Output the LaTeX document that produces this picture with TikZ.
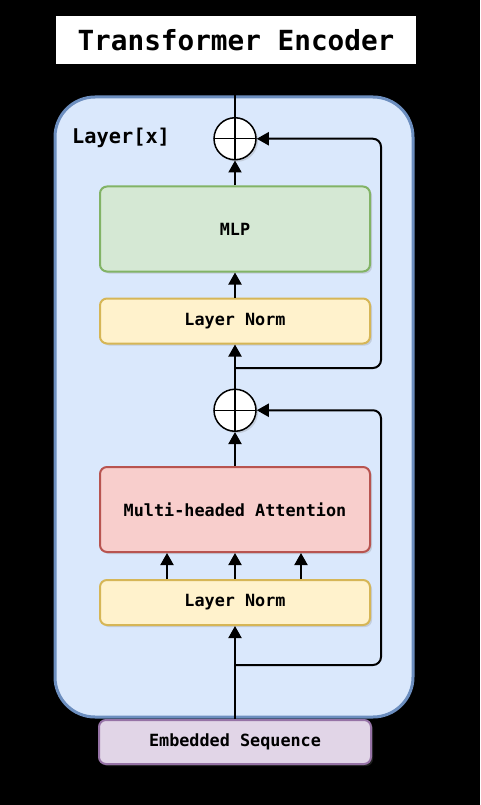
\documentclass[tikz,border=0pt]{standalone}
\usepackage{fontspec}
\setmonofont{DejaVu Sans Mono}
\usetikzlibrary{positioning,arrows.meta,shadows}

\definecolor{layerFill}{HTML}{DAE8FC}
\definecolor{layerLine}{HTML}{6C8EBF}
\definecolor{normFill}{HTML}{FFF2CC}
\definecolor{normLine}{HTML}{D6B656}
\definecolor{mlpFill}{HTML}{D5E8D4}
\definecolor{mlpLine}{HTML}{82B366}
\definecolor{attFill}{HTML}{F8CECC}
\definecolor{attLine}{HTML}{B85450}
\definecolor{embFill}{HTML}{E1D5E7}
\definecolor{embLine}{HTML}{9673A6}

\begin{document}
\begin{tikzpicture}[x=1pt, y=-1pt, >={Triangle[length=12pt,width=13pt]},
  block/.style={rectangle, rounded corners=7pt, line width=2pt, minimum width=270pt, inner sep=0pt,
    font=\ttfamily\bfseries\fontsize{16.8}{20}\selectfont,
    drop shadow={shadow xshift=2pt, shadow yshift=-2pt, opacity=.25}},
  norm/.style={block, fill=normFill, draw=normLine, minimum height=45pt},
  big/.style={block, minimum height=85pt},
  add/.style={circle, draw, fill=white, minimum size=42pt, inner sep=0pt, line width=1.5pt,
    drop shadow={shadow xshift=2pt, shadow yshift=-2pt, opacity=.25},
    path picture={\draw[line width=1.5pt] (path picture bounding box.north) -- (path picture bounding box.south)
      (path picture bounding box.west) -- (path picture bounding box.east);}},
  link/.style={->, line width=2pt}]

  % background and outer layer
  \useasboundingbox (0,0) rectangle (480,805);
  \fill[black] (0,0) rectangle (480,805);
  \node[rectangle, fill=white, minimum width=360pt, minimum height=48pt,
    font=\ttfamily\bfseries\fontsize{27.7}{30}\selectfont] (title) at (236,40) {Transformer Encoder};
  \node[rectangle, rounded corners=40pt, fill=layerFill, draw=layerLine, line width=3pt,
    minimum width=358pt, minimum height=620pt] (layer) at (234,407) {};
  \node[anchor=west, inner sep=0pt, font=\ttfamily\bfseries\fontsize{20.3}{24}\selectfont] (lbl) at (72,138) {Layer[x]};

  % blocks
  \node[block, fill=embFill, draw=embLine, minimum width=272pt, minimum height=44pt] (emb) at (235,742) {Embedded Sequence};
  \node[norm, above=93pt of emb] (ln1) {Layer Norm};
  \node[big, fill=attFill, draw=attLine, above=26pt of ln1] (mha) {Multi-headed Attention};
  \node[add, above=34pt of mha] (add1) {};
  \node[norm, above=44pt of add1] (ln2) {Layer Norm};
  \node[big, fill=mlpFill, draw=mlpLine, above=25pt of ln2] (mlp) {MLP};
  \node[add, above=25pt of mlp] (add2) {};

  \coordinate (br1) at (235,665);
  \coordinate (rail1) at (381,665);
  \coordinate (br2) at (235,368);
  \coordinate (rail2) at (381,368);

  % connections
  \draw[link] (emb) -- (ln1);
  \draw[link, rounded corners=8pt] (br1) -- (rail1) |- (add1);
  \foreach \dx in {-68,0,66}
    \draw[link] ([xshift=\dx pt]ln1.north) -- ([xshift=\dx pt]mha.south);
  \draw[link] (mha) -- (add1);
  \draw[link] (add1) -- (ln2);
  \draw[link, rounded corners=8pt] (br2) -- (rail2) |- (add2);
  \draw[link] (ln2) -- (mlp);
  \draw[link] (mlp) -- (add2);
  \draw[line width=2pt] (add2) -- (add2 |- layer.north);

\end{tikzpicture}
\end{document}
